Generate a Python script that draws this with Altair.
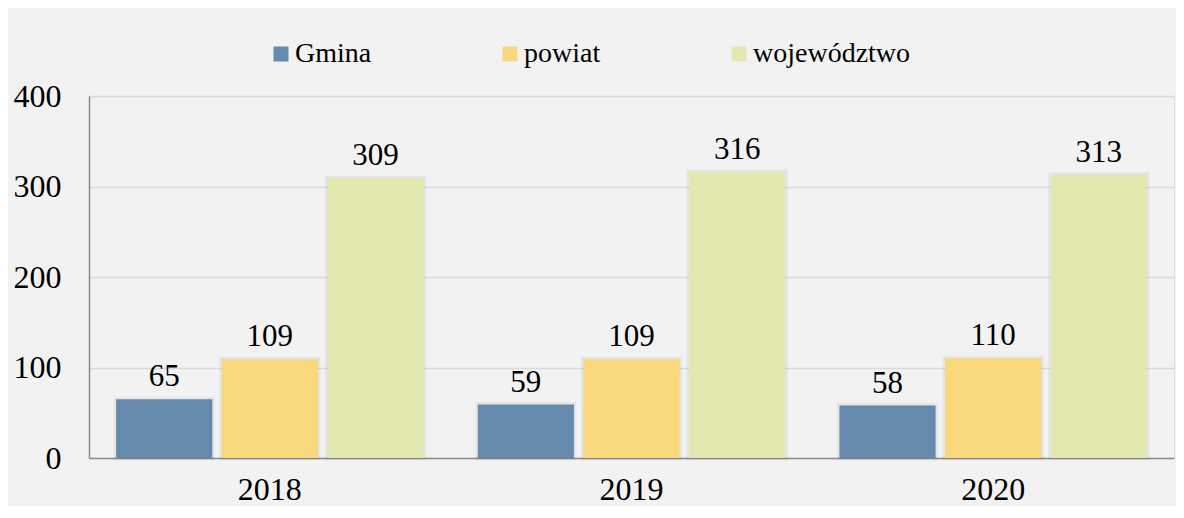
import altair as alt
import pandas as pd

years = ["2018", "2019", "2020"]
series = ["Gmina", "powiat", "województwo"]
gmina = [65, 59, 58]
powiat = [109, 109, 110]
wojewodztwo = [309, 316, 313]
colors = ["#658AAE", "#F9D87B", "#E3E8B0"]
y_ticks = [0, 100, 200, 300, 400]

rows = []
for name, vals in zip(series, [gmina, powiat, wojewodztwo]):
    for yr, v in zip(years, vals):
        rows.append({"rok": yr, "seria": name, "wartosc": v})
df = pd.DataFrame(rows)

FONT = "Liberation Serif"

base = alt.Chart(df).encode(
    x=alt.X(
        "rok:N",
        sort=years,
        scale=alt.Scale(paddingInner=0.15, paddingOuter=0.075),
        axis=alt.Axis(
            title=None,
            labelAngle=0,
            ticks=False,
            tickSize=0,
            labelPadding=41,
            labelBaseline="alphabetic",
            labelFont=FONT,
            labelFontSize=32,
            labelColor="#000000",
            domainColor="#8C8C8C",
            domainWidth=1.5,
            grid=False,
        ),
    ),
    xOffset=alt.XOffset(
        "seria:N", sort=series, scale=alt.Scale(paddingInner=0.09, paddingOuter=0)
    ),
    y=alt.Y(
        "wartosc:Q",
        scale=alt.Scale(domain=[0, 400], nice=False),
        axis=alt.Axis(
            title=None,
            values=y_ticks,
            ticks=False,
            tickSize=0,
            labelPadding=28,
            labelFont=FONT,
            labelFontSize=32,
            labelColor="#000000",
            domainColor="#8C8C8C",
            domainWidth=1.5,
            gridColor="#D9D9D9",
            gridWidth=1.5,
        ),
    ),
)

# faint soft shadow around each bar
shadow = base.mark_bar(
    fill="#000000", fillOpacity=0.05, stroke="#000000", strokeOpacity=0.05, strokeWidth=5
)

bars = base.mark_bar().encode(
    color=alt.Color(
        "seria:N",
        sort=series,
        scale=alt.Scale(domain=series, range=colors),
        legend=alt.Legend(
            title=None,
            orient="none",
            legendX=178,
            legendY=-56,
            direction="horizontal",
            columns=3,
            symbolType="square",
            symbolSize=225,
            symbolStrokeWidth=0,
            symbolOpacity=1,
            labelFont=FONT,
            labelFontSize=28,
            labelColor="#000000",
            labelOffset=0,
            labelLimit=400,
            columnPadding=124,
        ),
    )
)

labels = base.mark_text(
    baseline="alphabetic", dy=-13, font=FONT, fontSize=31, color="#000000"
).encode(text="wartosc:Q")

chart = (
    alt.layer(shadow, bars, labels)
    .properties(
        width=1085,
        height=362,
        autosize=alt.AutoSizeParams(type="none"),
        padding={"left": 81, "top": 88, "right": 2, "bottom": 48},
    )
    .configure_view(stroke=None)
    .configure_legend(labelFont=FONT, labelFontSize=28)
    .configure(background="#F2F2F2", font=FONT)
)

chart.save("out.html", embed_options={"renderer": "svg", "actions": False})
